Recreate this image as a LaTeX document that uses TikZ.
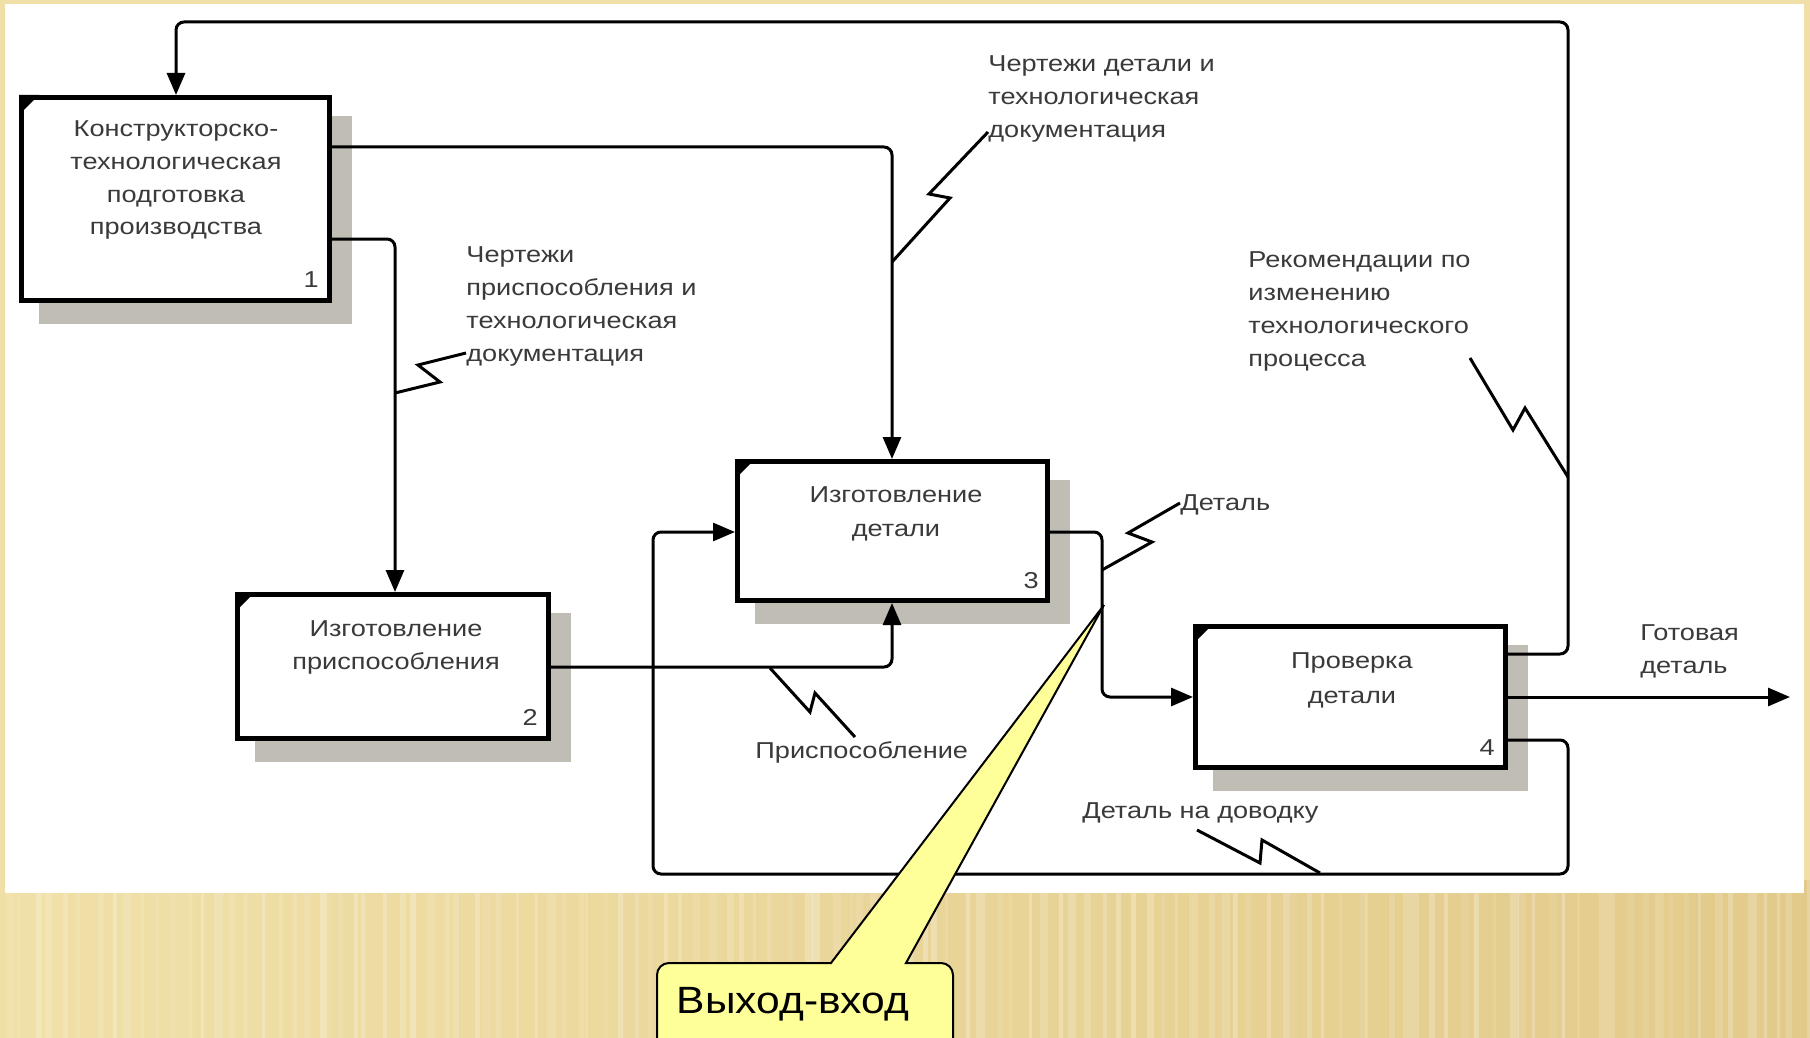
\documentclass[tikz,border=0pt]{standalone}
\usepackage{fontspec}
\setmainfont{Liberation Sans}
\newfontfamily\diagfont[FakeStretch=1.18]{Liberation Sans}
\newfontfamily\notefont[FakeStretch=1.12]{Liberation Sans}
\usetikzlibrary{arrows.meta,calc}
\pgfdeclarelayer{paper}
\pgfdeclarelayer{shade}
\pgfsetlayers{paper,shade,main}

\definecolor{bglight}{RGB}{240,224,168}
\definecolor{bgdark}{RGB}{226,202,138}
\definecolor{shadowgray}{RGB}{192,189,180}
\definecolor{inkgray}{RGB}{58,58,58}
\definecolor{noteyellow}{RGB}{255,255,153}

\tikzset{
  actbox/.style={draw=black, line width=2.5pt, fill=white, inner sep=0pt},
  boxtext/.style={font={\diagfont\fontsize{11.5pt}{16.25pt}\selectfont}, text=inkgray, align=center, inner sep=0pt, anchor=base},
  boxnum/.style={font={\diagfont\fontsize{11.5pt}{14pt}\selectfont}, text=inkgray, inner sep=0pt, anchor=base east},
  lbl/.style={font={\diagfont\fontsize{11.5pt}{16.5pt}\selectfont}, text=inkgray, align=left, inner sep=0pt, anchor=base west},
  flow/.style={line width=1.5pt, rounded corners=4pt, -{Triangle[length=11pt,width=9pt]}},
  squig/.style={line width=1.5pt, line join=miter},
  corner/.style={fill=black},
  notebox/.style={fill=noteyellow, draw=black, line width=1pt, line join=miter},
}

\begin{document}
\begin{tikzpicture}[x=0.5pt, y=-0.5pt]
\useasboundingbox (0,0) rectangle (1810,1038);

% slide background with soft vertical stripes
\begin{pgfonlayer}{paper}
  \fill[bglight] (0,0) rectangle (1810,1038);
  \shade[left color=bglight, right color=bgdark] (0,880) rectangle (1810,1038);
  \pgfmathsetseed{42}
  \foreach \i in {0,...,120} {
    \pgfmathsetmacro\sx{\i*15+random(0,10)}
    \pgfmathsetmacro\sw{random(3,9)}
    \pgfmathsetmacro\so{0.06+0.2*rnd}
    \fill[white, opacity=\so] (\sx,880) rectangle ++(\sw,158);
  }
  \fill[white] (5,4) rectangle (1804,893);
\end{pgfonlayer}

% activity boxes
\node[actbox, minimum width=154pt, minimum height=101.5pt] (b1) at (175.5,199) {};
\node[actbox, minimum width=155.5pt, minimum height=72pt] (b2) at (393,666.5) {};
\node[actbox, minimum width=155pt, minimum height=69.5pt] (b3) at (892.5,531) {};
\node[actbox, minimum width=155pt, minimum height=70.5pt] (b4) at (1350.5,697) {};

% drop shadows and corner marks
\begin{pgfonlayer}{shade}
  \foreach \b in {b1,b2,b3,b4}
    \fill[shadowgray] ($(\b.north west)+(20,21)$) rectangle ($(\b.south east)+(20,21)$);
\end{pgfonlayer}
\foreach \b in {b1,b2,b3,b4}
  \fill[corner] (\b.north west) -- ++(20,0) -- ++(-20,20) -- cycle;

% box titles and numbers (placed by the baseline of their last line)
\node[boxtext] (t1) at (176,234.5) {Конструкторско-\\технологическая\\подготовка\\производства};
\node[boxtext] (t2) at (396,669) {Изготовление\\приспособления};
\node[boxtext, font={\diagfont\fontsize{11.5pt}{17pt}\selectfont}] (t3) at (896,536) {Изготовление\\детали};
\node[boxtext, font={\diagfont\fontsize{11.5pt}{17.5pt}\selectfont}] (t4) at (1352,703) {Проверка\\детали};
\node[boxnum] (n1) at ($(b1.south east)+(-13,-16)$) {1};
\node[boxnum] (n2) at ($(b2.south east)+(-13,-16)$) {2};
\node[boxnum] (n3) at ($(b3.south east)+(-11,-15)$) {3};
\node[boxnum] (n4) at ($(b4.south east)+(-13,-15)$) {4};

% arrow labels
\node[lbl] (la) at (988,138) {Чертежи детали и\\технологическая\\документация};
\node[lbl] (lb) at (466,361) {Чертежи\\приспособления и\\технологическая\\документация};
\node[lbl] (lc) at (755,758) {Приспособление};
\node[lbl] (ld) at (1180,510) {Деталь};
\node[lbl] (le) at (1248,366) {Рекомендации по\\изменению\\технологического\\процесса};
\node[lbl] (lf) at (1082,818) {Деталь на доводку};
\node[lbl] (lg) at (1640,673) {Готовая\\деталь};

% connectors
\coordinate (out) at (1790,697);
\draw[flow] (b4.east |- 0,654) -- (1568,654) -- (1568,22) -- (176,22) -- (b1.north -| 176,0);
\draw[flow] (b1.east |- 0,147) -| (b3.north -| 892,0);
\draw[flow] (b1.east |- 0,239) -| (b2.north -| 395,0);
\draw[flow] (b2.east |- 0,667) -| (b3.south -| 892,0);
\draw[flow] (b3.east |- 0,532) -- (1102,532) -- (1102,697) -- (b4.west |- 0,697);
\draw[flow] (b4.east |- 0,740) -- (1568,740) -- (1568,874) -- (653,874) -- (653,532) -- (b3.west |- 0,532);
\draw[flow] (b4.east) -- (out);

% label leaders
\draw[squig] (892,262) -- (950,198) -- (929,194) -- (la.west |- 0,132);
\draw[squig] (395,393) -- (440,382) -- (418,365) -- (lb.west |- 0,353);
\draw[squig] (770,668) -- (810,712) -- (815,693) -- (855,737);
\draw[squig] (1102,570) -- (1152,542) -- (1128,533) -- (ld.west |- 0,503);
\draw[squig] (1470,358) -- (1513,430) -- (1525,408) -- (1568,477);
\draw[squig] (1197,830) -- (1260,863) -- (1262,840) -- (1320,873);

% callout
\draw[notebox] (657,1060) [rounded corners=6pt] -- (657,963) -- (780,963) [sharp corners] -- (831,963) -- (1104,605) -- (906,963) -- (920,963) [rounded corners=6pt] -- (953,963) -- (953,1060);
\node[font={\notefont\fontsize{19pt}{22pt}\selectfont}, text=black, inner sep=0pt, anchor=base] (note) at (793,1013) {Выход-вход};
\end{tikzpicture}
\end{document}
